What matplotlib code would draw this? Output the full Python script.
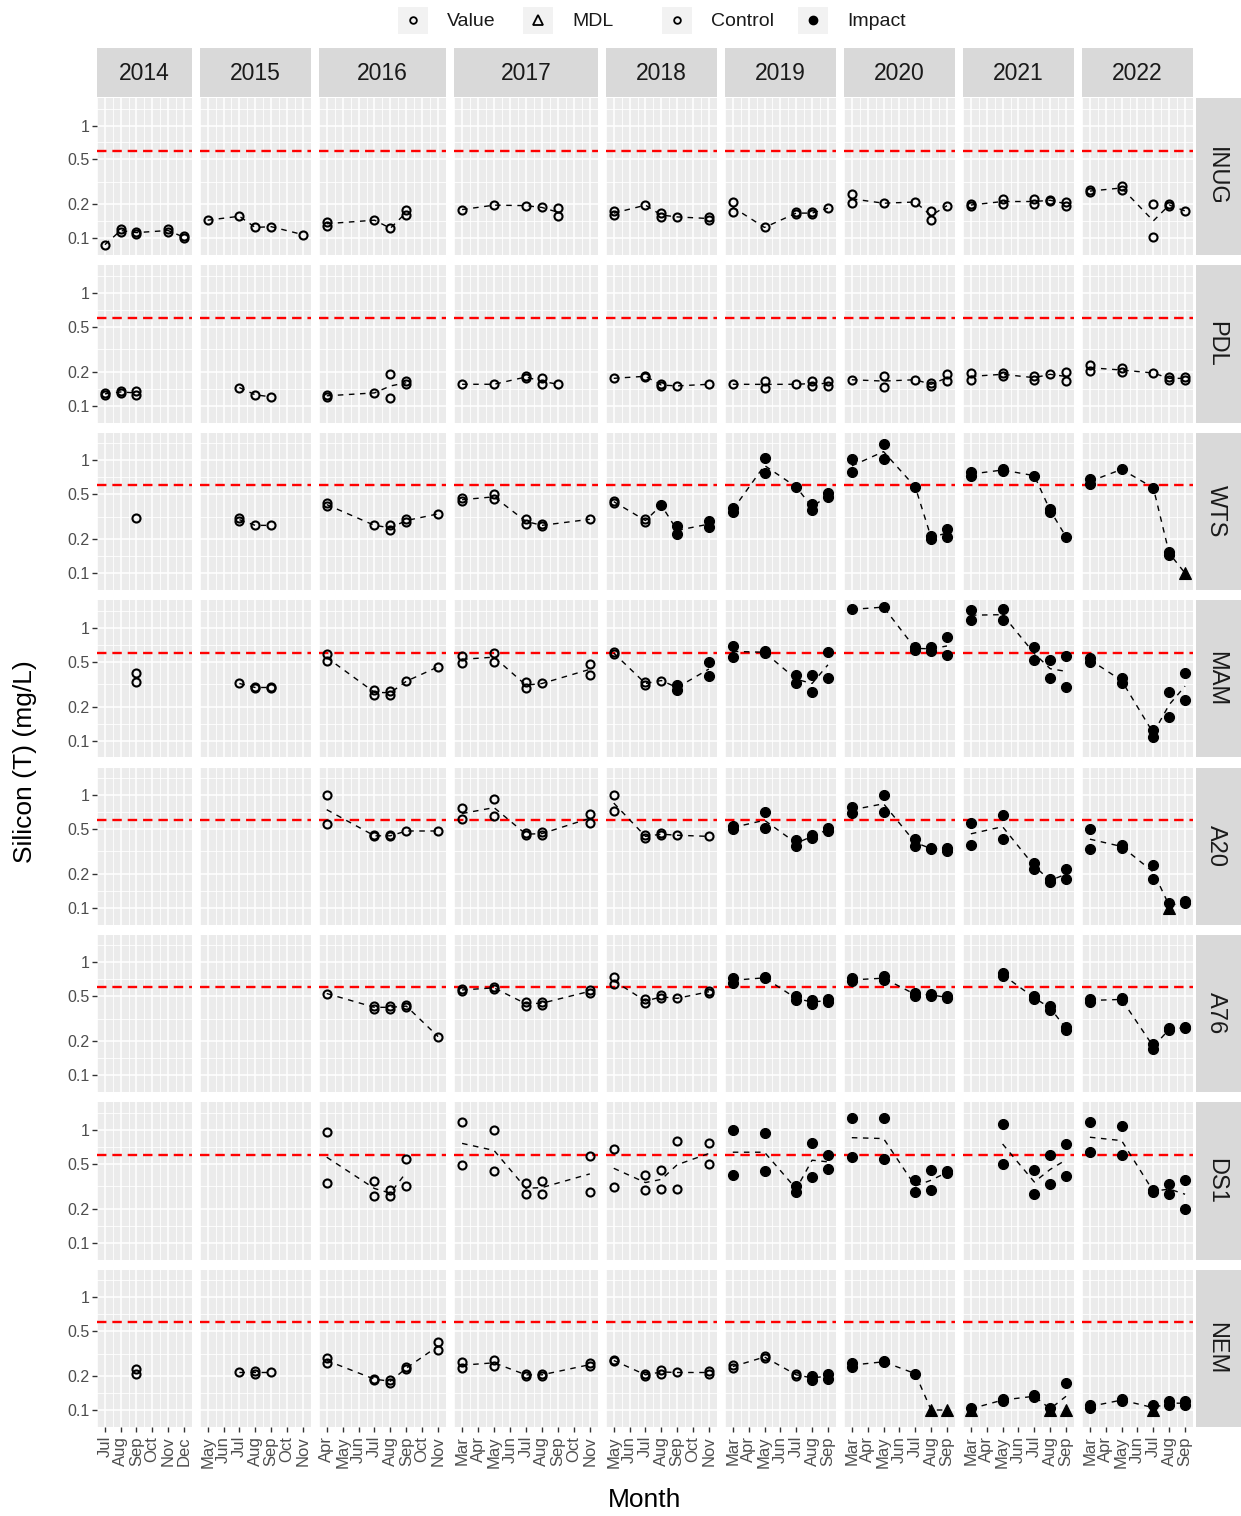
import numpy as np
import matplotlib
matplotlib.use('Agg')
import matplotlib.pyplot as plt
from matplotlib.patches import Rectangle
from matplotlib.ticker import NullFormatter

plt.rcParams['font.family'] = ['Liberation Sans', 'DejaVu Sans']

MONTHS = ['Jan', 'Feb', 'Mar', 'Apr', 'May', 'Jun', 'Jul', 'Aug', 'Sep', 'Oct', 'Nov', 'Dec']
YEARS = [2014, 2015, 2016, 2017, 2018, 2019, 2020, 2021, 2022]
SITES = ['INUG', 'PDL', 'WTS', 'MAM', 'A20', 'A76', 'DS1', 'NEM']
GUIDELINE = 0.6

# (year, month, values, kind)   kind: C = control, I = impact, M = impact at MDL
INUG = [
    (2014, 'Jul', [0.088], 'C'), (2014, 'Aug', [0.12, 0.115], 'C'), (2014, 'Sep', [0.115, 0.11], 'C'),
    (2014, 'Nov', [0.12, 0.115], 'C'), (2014, 'Dec', [0.105, 0.10], 'C'),
    (2015, 'May', [0.145], 'C'), (2015, 'Jul', [0.157], 'C'), (2015, 'Aug', [0.125], 'C'),
    (2015, 'Sep', [0.127], 'C'), (2015, 'Nov', [0.108], 'C'),
    (2016, 'Apr', [0.14, 0.13], 'C'), (2016, 'Jul', [0.145], 'C'), (2016, 'Aug', [0.123], 'C'),
    (2016, 'Sep', [0.18, 0.16], 'C'),
    (2017, 'Mar', [0.18], 'C'), (2017, 'May', [0.197], 'C'), (2017, 'Jul', [0.195], 'C'),
    (2017, 'Aug', [0.188], 'C'), (2017, 'Sep', [0.185, 0.157], 'C'),
    (2018, 'May', [0.175, 0.16], 'C'), (2018, 'Jul', [0.197], 'C'), (2018, 'Aug', [0.167, 0.155], 'C'),
    (2018, 'Sep', [0.155], 'C'), (2018, 'Nov', [0.155, 0.145], 'C'),
    (2019, 'Mar', [0.21, 0.17], 'C'), (2019, 'May', [0.125], 'C'), (2019, 'Jul', [0.17, 0.165], 'C'),
    (2019, 'Aug', [0.17, 0.165], 'C'), (2019, 'Sep', [0.185], 'C'),
    (2020, 'Mar', [0.245, 0.205], 'C'), (2020, 'May', [0.205], 'C'), (2020, 'Jul', [0.21], 'C'),
    (2020, 'Aug', [0.175, 0.145], 'C'), (2020, 'Sep', [0.195], 'C'),
    (2021, 'Mar', [0.2, 0.195], 'C'), (2021, 'May', [0.225, 0.2], 'C'), (2021, 'Jul', [0.225, 0.2], 'C'),
    (2021, 'Aug', [0.22, 0.215], 'C'), (2021, 'Sep', [0.21, 0.195], 'C'),
    (2022, 'Mar', [0.27, 0.255], 'C'), (2022, 'May', [0.29, 0.27], 'C'), (2022, 'Jul', [0.2, 0.102], 'C'),
    (2022, 'Aug', [0.2, 0.195], 'C'), (2022, 'Sep', [0.175], 'C'),
]

PDL = [
    (2014, 'Jul', [0.13, 0.125], 'C'), (2014, 'Aug', [0.135, 0.13], 'C'), (2014, 'Sep', [0.135, 0.125], 'C'),
    (2015, 'Jul', [0.145], 'C'), (2015, 'Aug', [0.125], 'C'), (2015, 'Sep', [0.12], 'C'),
    (2016, 'Apr', [0.125, 0.12], 'C'), (2016, 'Jul', [0.13], 'C'), (2016, 'Aug', [0.19, 0.118], 'C'),
    (2016, 'Sep', [0.165, 0.155], 'C'),
    (2017, 'Mar', [0.155], 'C'), (2017, 'May', [0.155], 'C'), (2017, 'Jul', [0.185, 0.175], 'C'),
    (2017, 'Aug', [0.175, 0.155], 'C'), (2017, 'Sep', [0.155], 'C'),
    (2018, 'May', [0.175], 'C'), (2018, 'Jul', [0.185, 0.18], 'C'), (2018, 'Aug', [0.155, 0.15], 'C'),
    (2018, 'Sep', [0.15], 'C'), (2018, 'Nov', [0.155], 'C'),
    (2019, 'Mar', [0.155], 'C'), (2019, 'May', [0.165, 0.145], 'C'), (2019, 'Jul', [0.155], 'C'),
    (2019, 'Aug', [0.165, 0.15], 'C'), (2019, 'Sep', [0.165, 0.15], 'C'),
    (2020, 'Mar', [0.17], 'C'), (2020, 'May', [0.185, 0.148], 'C'), (2020, 'Jul', [0.17], 'C'),
    (2020, 'Aug', [0.16, 0.15], 'C'), (2020, 'Sep', [0.19, 0.165], 'C'),
    (2021, 'Mar', [0.195, 0.17], 'C'), (2021, 'May', [0.195, 0.185], 'C'), (2021, 'Jul', [0.185, 0.17], 'C'),
    (2021, 'Aug', [0.19], 'C'), (2021, 'Sep', [0.2, 0.165], 'C'),
    (2022, 'Mar', [0.23, 0.205], 'C'), (2022, 'May', [0.215, 0.2], 'C'), (2022, 'Jul', [0.195], 'C'),
    (2022, 'Aug', [0.18, 0.17], 'C'), (2022, 'Sep', [0.18, 0.17], 'C'),
]

WTS = [
    (2014, 'Sep', [0.31], 'C'),
    (2015, 'Jul', [0.305, 0.29], 'C'), (2015, 'Aug', [0.265], 'C'), (2015, 'Sep', [0.265], 'C'),
    (2016, 'Apr', [0.42, 0.39], 'C'), (2016, 'Jul', [0.265], 'C'), (2016, 'Aug', [0.265, 0.24], 'C'),
    (2016, 'Sep', [0.3, 0.285], 'C'), (2016, 'Nov', [0.335], 'C'),
    (2017, 'Mar', [0.46, 0.435], 'C'), (2017, 'May', [0.5, 0.45], 'C'), (2017, 'Jul', [0.3, 0.275], 'C'),
    (2017, 'Aug', [0.27, 0.26], 'C'), (2017, 'Nov', [0.3], 'C'),
    (2018, 'May', [0.44, 0.42], 'C'), (2018, 'Jul', [0.3, 0.285], 'C'), (2018, 'Aug', [0.4], 'I'),
    (2018, 'Sep', [0.26, 0.22], 'I'), (2018, 'Nov', [0.29, 0.255], 'I'),
    (2019, 'Mar', [0.38, 0.35], 'I'), (2019, 'May', [1.05, 0.77], 'I'), (2019, 'Jul', [0.58], 'I'),
    (2019, 'Aug', [0.41, 0.36], 'I'), (2019, 'Sep', [0.51, 0.47], 'I'),
    (2020, 'Mar', [1.02, 0.78], 'I'), (2020, 'May', [1.38, 1.03], 'I'), (2020, 'Jul', [0.58], 'I'),
    (2020, 'Aug', [0.215, 0.2], 'I'), (2020, 'Sep', [0.245, 0.21], 'I'),
    (2021, 'Mar', [0.79, 0.72], 'I'), (2021, 'May', [0.83, 0.81], 'I'), (2021, 'Jul', [0.73], 'I'),
    (2021, 'Aug', [0.37, 0.35], 'I'), (2021, 'Sep', [0.21], 'I'),
    (2022, 'Mar', [0.68, 0.62], 'I'), (2022, 'May', [0.83], 'I'), (2022, 'Jul', [0.57], 'I'),
    (2022, 'Aug', [0.155, 0.145], 'I'), (2022, 'Sep', [0.1], 'M'),
]

MAM = [
    (2014, 'Sep', [0.4, 0.33], 'C'),
    (2015, 'Jul', [0.32], 'C'), (2015, 'Aug', [0.3, 0.29], 'C'), (2015, 'Sep', [0.3, 0.29], 'C'),
    (2016, 'Apr', [0.58, 0.51], 'C'), (2016, 'Jul', [0.28, 0.255], 'C'), (2016, 'Aug', [0.275, 0.255], 'C'),
    (2016, 'Sep', [0.335], 'C'), (2016, 'Nov', [0.45], 'C'),
    (2017, 'Mar', [0.56, 0.49], 'C'), (2017, 'May', [0.6, 0.5], 'C'), (2017, 'Jul', [0.33, 0.29], 'C'),
    (2017, 'Aug', [0.32], 'C'), (2017, 'Nov', [0.48, 0.38], 'C'),
    (2018, 'May', [0.61, 0.58], 'C'), (2018, 'Jul', [0.33, 0.31], 'C'), (2018, 'Aug', [0.34], 'C'),
    (2018, 'Sep', [0.31, 0.28], 'I'), (2018, 'Nov', [0.5, 0.37], 'I'),
    (2019, 'Mar', [0.69, 0.55], 'I'), (2019, 'May', [0.62, 0.59], 'I'), (2019, 'Jul', [0.38, 0.32], 'I'),
    (2019, 'Aug', [0.38, 0.27], 'I'), (2019, 'Sep', [0.61, 0.36], 'I'),
    (2020, 'Mar', [1.45], 'I'), (2020, 'May', [1.52], 'I'), (2020, 'Jul', [0.67, 0.64], 'I'),
    (2020, 'Aug', [0.68, 0.62], 'I'), (2020, 'Sep', [0.83, 0.57], 'I'),
    (2021, 'Mar', [1.42, 1.17], 'I'), (2021, 'May', [1.45, 1.17], 'I'), (2021, 'Jul', [0.67, 0.52], 'I'),
    (2021, 'Aug', [0.52, 0.36], 'I'), (2021, 'Sep', [0.56, 0.3], 'I'),
    (2022, 'Mar', [0.54, 0.5], 'I'), (2022, 'May', [0.36, 0.32], 'I'), (2022, 'Jul', [0.125, 0.108], 'I'),
    (2022, 'Aug', [0.27, 0.16], 'I'), (2022, 'Sep', [0.4, 0.23], 'I'),
]

A20 = [
    (2016, 'Apr', [1.0, 0.55], 'C'), (2016, 'Jul', [0.44, 0.43], 'C'), (2016, 'Aug', [0.44, 0.43], 'C'),
    (2016, 'Sep', [0.48], 'C'), (2016, 'Nov', [0.48], 'C'),
    (2017, 'Mar', [0.77, 0.61], 'C'), (2017, 'May', [0.92, 0.65], 'C'), (2017, 'Jul', [0.46, 0.44], 'C'),
    (2017, 'Aug', [0.47, 0.44], 'C'), (2017, 'Nov', [0.68, 0.57], 'C'),
    (2018, 'May', [1.0, 0.72], 'C'), (2018, 'Jul', [0.44, 0.42], 'C'), (2018, 'Aug', [0.46, 0.44], 'C'),
    (2018, 'Sep', [0.44], 'C'), (2018, 'Nov', [0.43], 'C'),
    (2019, 'Mar', [0.53, 0.5], 'I'), (2019, 'May', [0.7, 0.51], 'I'), (2019, 'Jul', [0.4, 0.35], 'I'),
    (2019, 'Aug', [0.44, 0.42], 'I'), (2019, 'Sep', [0.51, 0.48], 'I'),
    (2020, 'Mar', [0.79, 0.69], 'I'), (2020, 'May', [1.0, 0.7], 'I'), (2020, 'Jul', [0.41, 0.35], 'I'),
    (2020, 'Aug', [0.34, 0.33], 'I'), (2020, 'Sep', [0.34, 0.32], 'I'),
    (2021, 'Mar', [0.57, 0.36], 'I'), (2021, 'May', [0.67, 0.41], 'I'), (2021, 'Jul', [0.25, 0.22], 'I'),
    (2021, 'Aug', [0.18, 0.17], 'I'), (2021, 'Sep', [0.22, 0.18], 'I'),
    (2022, 'Mar', [0.5, 0.33], 'I'), (2022, 'May', [0.36, 0.34], 'I'), (2022, 'Jul', [0.24, 0.18], 'I'),
    (2022, 'Aug', [0.11], 'I'), (2022, 'Aug', [0.1], 'M'), (2022, 'Sep', [0.115, 0.11], 'I'),
]

A76 = [
    (2016, 'Apr', [0.53], 'C'), (2016, 'Jul', [0.41, 0.39], 'C'), (2016, 'Aug', [0.41, 0.39], 'C'),
    (2016, 'Sep', [0.42, 0.4], 'C'), (2016, 'Nov', [0.22], 'C'),
    (2017, 'Mar', [0.58, 0.56], 'C'), (2017, 'May', [0.61, 0.58], 'C'), (2017, 'Jul', [0.45, 0.41], 'C'),
    (2017, 'Aug', [0.45, 0.42], 'C'), (2017, 'Nov', [0.57, 0.54], 'C'),
    (2018, 'May', [0.74, 0.64], 'C'), (2018, 'Jul', [0.47, 0.44], 'C'), (2018, 'Aug', [0.51, 0.48], 'C'),
    (2018, 'Sep', [0.48], 'C'), (2018, 'Nov', [0.56, 0.54], 'C'),
    (2019, 'Mar', [0.73, 0.66], 'I'), (2019, 'May', [0.74, 0.72], 'I'), (2019, 'Jul', [0.5, 0.46], 'I'),
    (2019, 'Aug', [0.46, 0.43], 'I'), (2019, 'Sep', [0.47, 0.45], 'I'),
    (2020, 'Mar', [0.72, 0.68], 'I'), (2020, 'May', [0.75, 0.7], 'I'), (2020, 'Jul', [0.54, 0.5], 'I'),
    (2020, 'Aug', [0.53, 0.5], 'I'), (2020, 'Sep', [0.5, 0.48], 'I'),
    (2021, 'May', [0.8, 0.76], 'I'), (2021, 'Jul', [0.5, 0.47], 'I'), (2021, 'Aug', [0.41, 0.38], 'I'),
    (2021, 'Sep', [0.27, 0.25], 'I'),
    (2022, 'Mar', [0.47, 0.45], 'I'), (2022, 'May', [0.48, 0.46], 'I'), (2022, 'Jul', [0.19, 0.17], 'I'),
    (2022, 'Aug', [0.26, 0.25], 'I'), (2022, 'Sep', [0.27, 0.26], 'I'),
]

DS1 = [
    (2016, 'Apr', [0.96, 0.34], 'C'), (2016, 'Jul', [0.35, 0.26], 'C'), (2016, 'Aug', [0.29, 0.26], 'C'),
    (2016, 'Sep', [0.55, 0.32], 'C'),
    (2017, 'Mar', [1.17, 0.49], 'C'), (2017, 'May', [1.0, 0.43], 'C'), (2017, 'Jul', [0.34, 0.27], 'C'),
    (2017, 'Aug', [0.35, 0.27], 'C'), (2017, 'Nov', [0.59, 0.28], 'C'),
    (2018, 'May', [0.67, 0.31], 'C'), (2018, 'Jul', [0.4, 0.29], 'C'), (2018, 'Aug', [0.44, 0.3], 'C'),
    (2018, 'Sep', [0.8, 0.3], 'C'), (2018, 'Nov', [0.76, 0.5], 'C'),
    (2019, 'Mar', [1.0, 0.4], 'I'), (2019, 'May', [0.93, 0.43], 'I'), (2019, 'Jul', [0.32, 0.28], 'I'),
    (2019, 'Aug', [0.76, 0.38], 'I'), (2019, 'Sep', [0.6, 0.45], 'I'),
    (2020, 'Mar', [1.27, 0.57], 'I'), (2020, 'May', [1.27, 0.55], 'I'), (2020, 'Jul', [0.36, 0.28], 'I'),
    (2020, 'Aug', [0.44, 0.29], 'I'), (2020, 'Sep', [0.43, 0.41], 'I'),
    (2021, 'May', [1.12, 0.5], 'I'), (2021, 'Jul', [0.44, 0.27], 'I'), (2021, 'Aug', [0.6, 0.33], 'I'),
    (2021, 'Sep', [0.75, 0.39], 'I'),
    (2022, 'Mar', [1.17, 0.63], 'I'), (2022, 'May', [1.07, 0.6], 'I'), (2022, 'Jul', [0.29, 0.28], 'I'),
    (2022, 'Aug', [0.33, 0.27], 'I'), (2022, 'Sep', [0.36, 0.2], 'I'),
]

NEM = [
    (2014, 'Sep', [0.23, 0.21], 'C'),
    (2015, 'Jul', [0.215], 'C'), (2015, 'Aug', [0.22, 0.21], 'C'), (2015, 'Sep', [0.215], 'C'),
    (2016, 'Apr', [0.29, 0.26], 'C'), (2016, 'Jul', [0.19, 0.185], 'C'), (2016, 'Aug', [0.185, 0.175], 'C'),
    (2016, 'Sep', [0.24, 0.23], 'C'), (2016, 'Nov', [0.4, 0.34], 'C'),
    (2017, 'Mar', [0.265, 0.235], 'C'), (2017, 'May', [0.28, 0.245], 'C'), (2017, 'Jul', [0.21, 0.2], 'C'),
    (2017, 'Aug', [0.21, 0.2], 'C'), (2017, 'Nov', [0.26, 0.245], 'C'),
    (2018, 'May', [0.28, 0.27], 'C'), (2018, 'Jul', [0.21, 0.2], 'C'), (2018, 'Aug', [0.225, 0.21], 'C'),
    (2018, 'Sep', [0.215], 'C'), (2018, 'Nov', [0.22, 0.21], 'C'),
    (2019, 'Mar', [0.25, 0.235], 'C'), (2019, 'May', [0.3, 0.29], 'C'), (2019, 'Jul', [0.21, 0.2], 'C'),
    (2019, 'Aug', [0.2, 0.185], 'I'), (2019, 'Sep', [0.21, 0.19], 'I'),
    (2020, 'Mar', [0.26, 0.24], 'I'), (2020, 'May', [0.27, 0.265], 'I'), (2020, 'Jul', [0.21], 'I'),
    (2020, 'Aug', [0.1], 'M'), (2020, 'Sep', [0.1], 'M'),
    (2021, 'Mar', [0.105], 'I'), (2021, 'Mar', [0.1], 'M'), (2021, 'May', [0.125, 0.12], 'I'),
    (2021, 'Jul', [0.135, 0.13], 'I'), (2021, 'Aug', [0.105], 'I'), (2021, 'Aug', [0.1], 'M'),
    (2021, 'Sep', [0.175], 'I'), (2021, 'Sep', [0.1], 'M'),
    (2022, 'Mar', [0.11, 0.105], 'I'), (2022, 'May', [0.125, 0.12], 'I'), (2022, 'Jul', [0.11], 'I'),
    (2022, 'Jul', [0.1], 'M'), (2022, 'Aug', [0.12, 0.11], 'I'), (2022, 'Sep', [0.12, 0.11], 'I'),
]

SITE_DATA = [INUG, PDL, WTS, MAM, A20, A76, DS1, NEM]

KIND_STYLE = {
    'C': dict(marker='o', ms=5.8, mfc='none', mec='black', mew=1.5),
    'I': dict(marker='o', ms=7.2, mfc='black', mec='black', mew=0.8),
    'M': dict(marker='^', ms=8.5, mfc='black', mec='black', mew=0.8),
}


def month_num(m):
    return MONTHS.index(m) + 1


# figure layout in pixels
W, H = 1241, 1516
fig = plt.figure(figsize=(W / 100, H / 100), dpi=100)
fig.patch.set_facecolor('white')

P_LEFT, P_RIGHT, P_TOP, P_BOTTOM = 97, 1193, 98, 1427
COL_GAP, ROW_GAP = 8, 10

# month span of each year column comes from the data
spans = []
for yr in YEARS:
    ms = [month_num(e[1]) for rows in SITE_DATA for e in rows if e[0] == yr]
    spans.append((min(ms), max(ms)))
units = [hi - lo + 0.8 for lo, hi in spans]
px_unit = (P_RIGHT - P_LEFT - COL_GAP * (len(YEARS) - 1)) / sum(units)
col_x = []
x = P_LEFT
for u in units:
    col_x.append((x, u * px_unit))
    x += u * px_unit + COL_GAP
row_h = (P_BOTTOM - P_TOP - ROW_GAP * (len(SITES) - 1)) / len(SITES)

all_vals = [v for rows in SITE_DATA for e in rows for v in e[2]]
lmin, lmax = np.log10(min(all_vals)), np.log10(max(all_vals))
pad = 0.05 * (lmax - lmin)
YLIM = (10 ** (lmin - pad), 10 ** (lmax + pad))
YMAJOR = [0.1, 0.2, 0.5, 1]
YMINOR = [np.sqrt(0.05 * 0.1), np.sqrt(0.1 * 0.2), np.sqrt(0.2 * 0.5), np.sqrt(0.5), np.sqrt(2)]


def add_px_axes(x0, y0, w, h):
    return fig.add_axes([x0 / W, 1 - (y0 + h) / H, w / W, h / H])


for r, (site, rows) in enumerate(zip(SITES, SITE_DATA)):
    y0 = P_TOP + r * (row_h + ROW_GAP)
    for c, yr in enumerate(YEARS):
        x0, w = col_x[c]
        ax = add_px_axes(x0, y0, w, row_h)
        ax.set_facecolor('#EBEBEB')
        for s in ax.spines.values():
            s.set_visible(False)
        ax.set_yscale('log')
        lo, hi = spans[c]
        ax.set_xlim(lo - 0.4, hi + 0.4)
        ax.set_ylim(*YLIM)

        ax.set_xticks(range(lo, hi + 1))
        ax.set_xticks([m + 0.5 for m in range(lo - 1, hi + 1)], minor=True)
        ax.set_yticks(YMAJOR)
        ax.set_yticks(YMINOR, minor=True)
        ax.yaxis.set_minor_formatter(NullFormatter())
        ax.grid(which='major', color='white', lw=1.1)
        ax.grid(which='minor', color='white', lw=0.6)
        ax.set_axisbelow(True)
        ax.tick_params(which='minor', length=0)
        ax.tick_params(which='major', color='#333333', length=3.5, width=1.0,
                       labelcolor='#4D4D4D', labelsize=11.5, pad=2)

        if c == 0:
            ax.set_yticklabels(['0.1', '0.2', '0.5', '1'])
        else:
            ax.tick_params(axis='y', left=False, labelleft=False)
        if r == len(SITES) - 1:
            ax.set_xticklabels([MONTHS[m - 1] for m in range(lo, hi + 1)], rotation=90, va='top')
            ax.tick_params(axis='x', labelsize=12, pad=3)
        else:
            ax.tick_params(axis='x', bottom=False, labelbottom=False)

        ax.axhline(GUIDELINE, color='#FF0000', lw=1.7, ls=(0, (4, 2.5)), zorder=2)

        entries = [e for e in rows if e[0] == yr]
        by_month = {}
        for _, mon, vals, _ in entries:
            by_month.setdefault(month_num(mon), []).extend(vals)
        xs = sorted(by_month)
        if len(xs) > 1:
            # ggplot summarises on the log scale -> geometric mean
            gm = [np.exp(np.mean(np.log(by_month[m]))) for m in xs]
            ax.plot(xs, gm, color='black', lw=1.0, ls=(0, (4, 4)), zorder=3)
        for kind, style in KIND_STYLE.items():
            px, py = [], []
            for _, mon, vals, k in entries:
                if k == kind:
                    px += [month_num(mon)] * len(vals)
                    py += vals
            if px:
                ax.plot(px, py, ls='none', zorder=4, clip_on=False, **style)

    # right strip
    sax = add_px_axes(P_RIGHT + 3, y0, W - P_RIGHT - 3, row_h)
    sax.set_facecolor('#D9D9D9')
    sax.set_xticks([]); sax.set_yticks([])
    for s in sax.spines.values():
        s.set_visible(False)
    sax.text(0.45, 0.5, site, rotation=-90, ha='center', va='center', fontsize=17,
             color='#1A1A1A', transform=sax.transAxes)

# top strips
for c, yr in enumerate(YEARS):
    x0, w = col_x[c]
    sax = add_px_axes(x0, 48, w, P_TOP - 49)
    sax.set_facecolor('#D9D9D9')
    sax.set_xticks([]); sax.set_yticks([])
    for s in sax.spines.values():
        s.set_visible(False)
    sax.text(0.5, 0.48, str(yr), ha='center', va='center', fontsize=16.5,
             color='#1A1A1A', transform=sax.transAxes)

# legend
lg = add_px_axes(0, 0, W, 42)
lg.set_xlim(0, W); lg.set_ylim(42, 0)
lg.axis('off')
legend_items = [
    (413, 'Value', dict(marker='o', ms=4.8, mfc='none', mec='black', mew=1.3)),
    (538, 'MDL', dict(marker='^', ms=7.5, mfc='none', mec='black', mew=1.3)),
    (677, 'Control', dict(marker='o', ms=4.8, mfc='none', mec='black', mew=1.3)),
    (813, 'Impact', dict(marker='o', ms=6, mfc='black', mec='black')),
]
for cx, label, style in legend_items:
    lg.add_patch(Rectangle((cx - 15, 7), 30, 27, facecolor='#F2F2F2', edgecolor='none'))
    lg.plot([cx], [20], ls='none', **style)
    lg.text(cx + 34, 21, label, ha='left', va='center', fontsize=14, color='#1A1A1A')

fig.text(645 / W, 1 - 1500 / H, 'Month', ha='center', va='center', fontsize=19)
fig.text(25 / W, 1 - 762 / H, 'Silicon (T) (mg/L)', ha='center', va='center',
         rotation=90, fontsize=19)

fig.savefig('out.png', dpi=100)
